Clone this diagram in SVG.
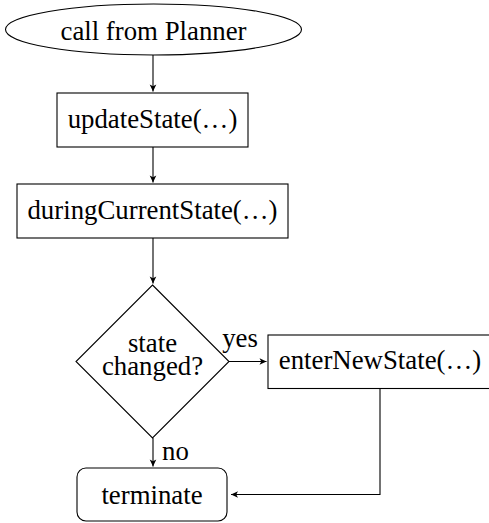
<svg xmlns="http://www.w3.org/2000/svg" width="489" height="523" viewBox="0 0 489 523">
  <style>
    .shape { fill: #fff; stroke: #000; stroke-width: 1.1; }
    .label { font-family: "Liberation Serif", "Times New Roman", serif; font-size: 26.8px; fill: #000; text-anchor: middle; }
    .edge { fill: none; stroke: #000; stroke-width: 1.1; marker-end: url(#arrow); }
  </style>
  <defs>
    <marker id="arrow" markerUnits="userSpaceOnUse" markerWidth="10" markerHeight="10" viewBox="-8 -5 10 10" refX="0" refY="0" orient="auto">
      <path d="M0,0 L-7,-3.3 L-5.2,0 L-7,3.3 Z" fill="#000"/>
    </marker>
  </defs>

  <rect width="489" height="523" fill="#fff"/>

  <g id="connectors">
    <path class="edge" d="M153,55 L153,91.5"/>
    <path class="edge" d="M153,147 L153,182.5"/>
    <path class="edge" d="M153,238 L153,283.5"/>
    <path class="edge" d="M229,361.5 L266.5,361.5"/>
    <path class="edge" d="M153,438 L153,466.5"/>
    <path class="edge" d="M380,388 L380,494.5 L231,494.5"/>
    <text class="label" x="240" y="347">yes</text>
    <text class="label" x="175.5" y="459.5">no</text>
  </g>

  <g id="start">
    <ellipse class="shape" cx="153.5" cy="29.5" rx="148" ry="25.5"/>
    <text class="label" x="153.5" y="39.5">call from Planner</text>
  </g>

  <g id="update-state">
    <rect class="shape" x="57" y="93" width="191" height="54"/>
    <text class="label" x="152.5" y="127.5">updateState(…)</text>
  </g>

  <g id="during-current-state">
    <rect class="shape" x="17" y="184" width="271" height="54"/>
    <text class="label" x="152.5" y="218.5">duringCurrentState(…)</text>
  </g>

  <g id="state-changed">
    <polygon class="shape" points="152.5,285 229,361.5 152.5,438 76,361.5"/>
    <text class="label" x="152.5" y="352">state</text>
    <text class="label" x="152.5" y="374.5">changed?</text>
  </g>

  <g id="enter-new-state">
    <rect class="shape" x="268" y="335" width="224" height="53.5"/>
    <text class="label" x="380" y="369">enterNewState(…)</text>
  </g>

  <g id="terminate">
    <rect class="shape" x="77" y="468" width="150" height="53" rx="9" ry="9"/>
    <text class="label" x="152" y="503.5">terminate</text>
  </g>
</svg>
